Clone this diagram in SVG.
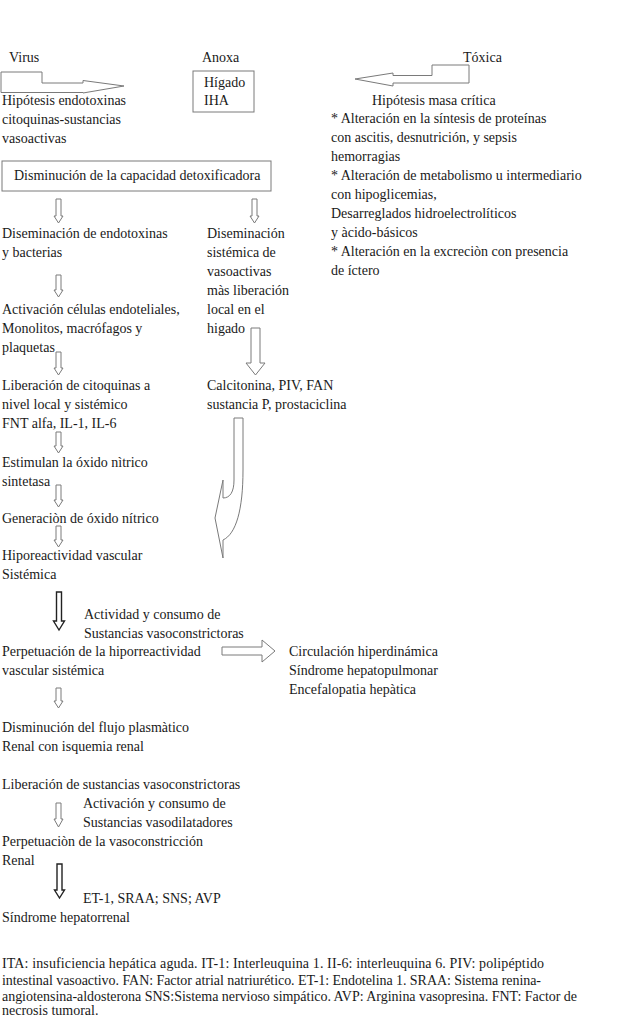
<svg xmlns="http://www.w3.org/2000/svg" width="619" height="1019" viewBox="0 0 619 1019">
<style>
text{font-family:"Liberation Serif","Times New Roman",serif;font-size:14px;fill:#1a1a1a}
.fn{font-size:14px}
.box{fill:#fff;stroke:#7a7a7a;stroke-width:1}
.arr{fill:#fff;stroke:#7a7a7a;stroke-width:1}
.bold{fill:#fff;stroke:#222;stroke-width:1.4}
</style>
<rect width="619" height="1019" fill="#fff"/>

<g id="connectors">
  <path class="arr" d="M1,72 H42 V83 H83 V80.5 L124,86 L83,93 V92.5 H1 Z"/>
  <path class="arr" d="M469,65 H432 V75.5 H393 V73 L355,79 L393,86 V83 H469 Z"/>
  <path class="arr" d="M56,199 h5 V216 h2 L58.5,223 L54,216 h2 Z"/>
  <path class="arr" d="M252,199 h5 V216 h2 L254.5,223 L250,216 h2 Z"/>
  <path class="arr" d="M56,275 h5 V290 h2 L58.5,297 L54,290 h2 Z"/>
  <path class="arr" d="M56,352 h5 V368 h2 L58.5,375 L54,368 h2 Z"/>
  <path class="arr" d="M251,328 h9 V363 h5 L255.5,375 L246,363 h5 Z"/>
  <path class="arr" d="M56,432 h5 V446 h2 L58.5,453 L54,446 h2 Z"/>
  <path class="arr" d="M56,485 h5 V500 h2 L58.5,507 L54,500 h2 Z"/>
  <path class="arr" d="M56,526 h5 V540 h2 L58.5,547 L54,540 h2 Z"/>
  <path class="arr" d="M234,418 H243 V470 C243,510 236,534 223,540 V558 L215,518 L223,480 V498 C230,498 234,492 234,480 Z"/>
  <path class="bold" d="M56.5,592 h5 V621 h3 L59,630 L53.5,621 h3 Z"/>
  <path class="arr" d="M222,647 H262 V640 L275,651 L262,662 V655 H222 Z"/>
  <path class="arr" d="M56,688 h5 V701 h2 L58.5,708 L54,701 h2 Z"/>
  <path class="arr" d="M56,803 h5 V819 h2 L58.5,827 L54,819 h2 Z"/>
  <path class="bold" d="M57,864 h5 V890 h2.5 L59.5,898 L54.5,890 h2.5 Z"/>
</g>

<g id="virus"><text x="9" y="62">Virus</text></g>
<g id="anoxa"><text x="202" y="62">Anoxa</text></g>
<g id="toxica"><text x="463" y="62">Tóxica</text></g>

<g id="higado">
  <rect class="box" x="193" y="71" width="61" height="41"/>
  <text x="204" y="87">Hígado</text>
  <text x="204" y="105">IHA</text>
</g>

<g id="hipotesis-endotoxinas">
  <text x="2" y="105">Hipótesis endotoxinas</text>
  <text x="2" y="124">citoquinas-sustancias</text>
  <text x="2" y="143">vasoactivas</text>
</g>

<g id="masa-critica">
  <text x="372" y="105">Hipótesis masa crítica</text>
  <text x="331" y="123">* Alteración en la síntesis de proteínas</text>
  <text x="331" y="142">con ascitis, desnutrición, y sepsis</text>
  <text x="331" y="161">hemorragias</text>
  <text x="331" y="180">* Alteración de metabolismo u intermediario</text>
  <text x="331" y="199">con hipoglicemias,</text>
  <text x="331" y="218">Desarreglados hidroelectrolíticos</text>
  <text x="331" y="237">y àcido-básicos</text>
  <text x="331" y="256">* Alteración en la excreciòn con presencia</text>
  <text x="331" y="275">de íctero</text>
</g>

<g id="disminucion">
  <rect class="box" x="2" y="161" width="269" height="30"/>
  <text x="14" y="180">Disminución de la capacidad detoxificadora</text>
</g>

<g id="diseminacion-endotoxinas">
  <text x="2" y="238">Diseminación de endotoxinas</text>
  <text x="2" y="257">y bacterias</text>
</g>

<g id="diseminacion-sistemica">
  <text x="207" y="238">Diseminación</text>
  <text x="207" y="257">sistémica de</text>
  <text x="207" y="276">vasoactivas</text>
  <text x="207" y="295">màs liberación</text>
  <text x="207" y="314">local en el</text>
  <text x="207" y="333">higado</text>
</g>

<g id="activacion">
  <text x="2" y="314">Activación células endoteliales,</text>
  <text x="2" y="333">Monolitos, macrófagos y</text>
  <text x="2" y="352">plaquetas</text>
</g>

<g id="liberacion-citoquinas">
  <text x="2" y="390">Liberación de citoquinas a</text>
  <text x="2" y="409">nivel local y sistémico</text>
  <text x="2" y="428">FNT alfa, IL-1, IL-6</text>
</g>

<g id="calcitonina">
  <text x="207" y="390">Calcitonina, PIV, FAN</text>
  <text x="207" y="409">sustancia P, prostaciclina</text>
</g>

<g id="estimulan">
  <text x="2" y="467">Estimulan la óxido nìtrico</text>
  <text x="2" y="486">sintetasa</text>
</g>

<g id="generacion"><text x="2" y="523">Generaciòn de óxido nítrico</text></g>

<g id="hiporeactividad">
  <text x="2" y="560">Hiporeactividad vascular</text>
  <text x="2" y="579">Sistémica</text>
</g>

<g id="actividad-consumo">
  <text x="84" y="619">Actividad y consumo de</text>
  <text x="84" y="638">Sustancias vasoconstrictoras</text>
</g>

<g id="perpetuacion-hiporreactividad">
  <text x="2" y="656">Perpetuación de la hiporreactividad</text>
  <text x="2" y="675">vascular sistémica</text>
</g>

<g id="circulacion">
  <text x="289" y="656">Circulación hiperdinámica</text>
  <text x="289" y="675">Síndrome hepatopulmonar</text>
  <text x="289" y="694">Encefalopatia hepàtica</text>
</g>

<g id="disminucion-flujo">
  <text x="2" y="732">Disminución del flujo plasmàtico</text>
  <text x="2" y="751">Renal con isquemia renal</text>
</g>

<g id="liberacion-vasoconstrictoras"><text x="2" y="789">Liberación de sustancias vasoconstrictoras</text></g>

<g id="activacion-consumo">
  <text x="83" y="808">Activación y consumo de</text>
  <text x="83" y="827">Sustancias vasodilatadores</text>
</g>

<g id="perpetuacion-vasoconstriccion">
  <text x="2" y="846">Perpetuaciòn de la vasoconstricción</text>
  <text x="2" y="865">Renal</text>
</g>

<g id="mediadores"><text x="83" y="903">ET-1, SRAA; SNS; AVP</text></g>

<g id="sindrome-hepatorrenal"><text x="2" y="922">Síndrome hepatorrenal</text></g>

<g id="nota">
  <text class="fn" x="2" y="968" textLength="542" lengthAdjust="spacing">ITA: insuficiencia hepática aguda. IT-1: Interleuquina 1. II-6: interleuquina 6. PIV: polipéptido</text>
  <text class="fn" x="2" y="985" textLength="539" lengthAdjust="spacing">intestinal vasoactivo. FAN: Factor atrial natriurético. ET-1: Endotelina 1. SRAA: Sistema renina-</text>
  <text class="fn" x="2" y="1001" textLength="575" lengthAdjust="spacing">angiotensina-aldosterona SNS:Sistema nervioso simpático. AVP: Arginina vasopresina. FNT: Factor de</text>
  <text class="fn" x="2" y="1015">necrosis tumoral.</text>
</g>
</svg>
